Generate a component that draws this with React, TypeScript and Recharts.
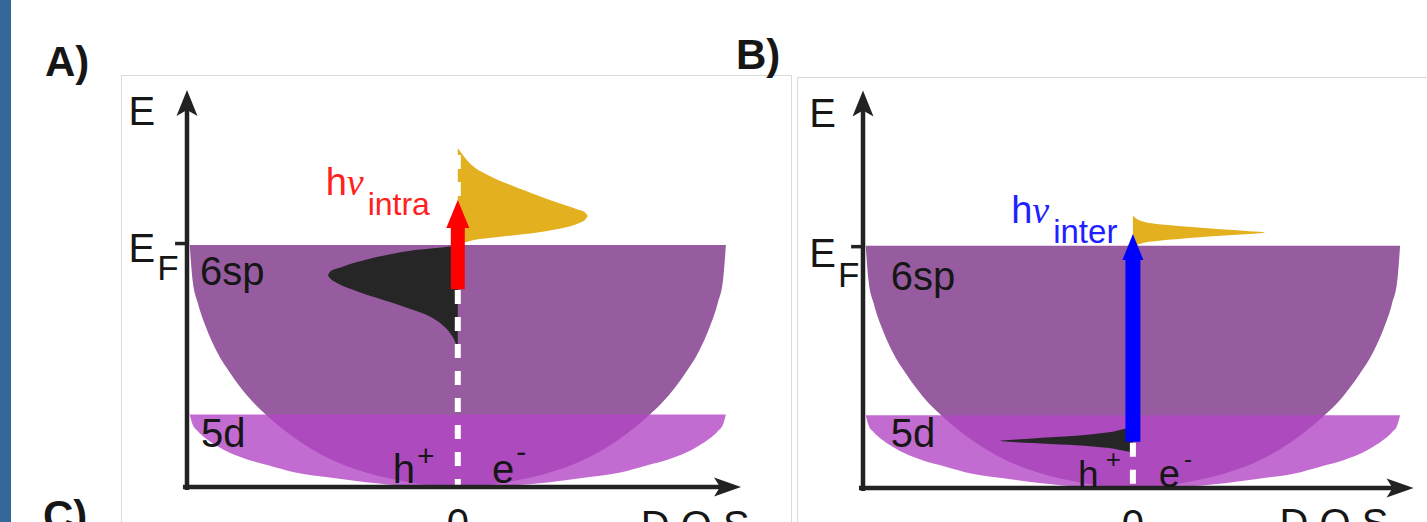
import React from "react";
import { ComposedChart, Area, XAxis, YAxis, ReferenceLine, ReferenceDot } from "recharts";

const FONT = "'Liberation Sans', Arial, Helvetica, sans-serif";
const SERIF = "'Liberation Serif', 'Times New Roman', serif";
const INK = "#161616";
const AXIS = "#222222";

// DOS axis: 0 in the middle, band edges near +-1.
// Energy axis: 0 at E_F, -1 at the bottom of the bands.
const xTicks = [0];
const dosDomain = [-1, 1];
const energyDomain = [-1, 0.64];

// shared DOS grid of the two parabolic bands
const bandDos = [-0.99, -0.98, -0.96, -0.93, -0.89, -0.84, -0.78, -0.7, -0.6, -0.48, -0.34, -0.18, 0, 0.18, 0.34, 0.48, 0.6, 0.7, 0.78, 0.84, 0.89, 0.93, 0.96, 0.98, 0.99];
const sp6Floor = [0, -0.14, -0.24, -0.34, -0.44, -0.53, -0.62, -0.71, -0.8, -0.88, -0.94, -0.98, -1, -0.98, -0.94, -0.88, -0.8, -0.71, -0.62, -0.53, -0.44, -0.34, -0.24, -0.14, 0];
const d5Floor = [-0.7, -0.74, -0.77, -0.8, -0.83, -0.86, -0.885, -0.91, -0.94, -0.96, -0.98, -0.995, -1, -0.995, -0.98, -0.96, -0.94, -0.91, -0.885, -0.86, -0.83, -0.8, -0.77, -0.74, -0.7];
const sp6Top = 0;
const d5Top = -0.7;

// A) intraband: hot electrons above E_F, holes below
const hotDosA = [0, 0.01, 0.03, 0.06, 0.1, 0.15, 0.2, 0.25, 0.3, 0.35, 0.4, 0.43, 0.455, 0.47, 0.48];
const hotLowA = [0, 0.005, 0.012, 0.021, 0.027, 0.033, 0.039, 0.045, 0.053, 0.062, 0.073, 0.083, 0.094, 0.104, 0.12];
const hotHighA = [0.4, 0.385, 0.355, 0.322, 0.295, 0.268, 0.246, 0.224, 0.202, 0.182, 0.163, 0.152, 0.142, 0.134, 0.12];
const holeDosA = [-0.48, -0.47, -0.455, -0.43, -0.4, -0.35, -0.3, -0.25, -0.2, -0.15, -0.1, -0.06, -0.03, -0.01, 0];
const holeLowA = [-0.125, -0.14, -0.152, -0.166, -0.18, -0.2, -0.218, -0.236, -0.255, -0.274, -0.298, -0.328, -0.362, -0.4, -0.43];
const holeHighA = [-0.125, -0.108, -0.1, -0.092, -0.08, -0.064, -0.05, -0.038, -0.028, -0.02, -0.014, -0.01, -0.006, -0.003, 0];

// B) interband: holes in 5d, electrons just above E_F
const hotDosB = [0, 0.015, 0.04, 0.08, 0.13, 0.19, 0.25, 0.31, 0.37, 0.43, 0.47, 0.49];
const hotLowB = [0, 0.003, 0.012, 0.018, 0.024, 0.03, 0.035, 0.04, 0.044, 0.048, 0.051, 0.054];
const hotHighB = [0.125, 0.11, 0.099, 0.091, 0.085, 0.079, 0.074, 0.069, 0.065, 0.06, 0.057, 0.054];
const holeDosB = [-0.49, -0.43, -0.37, -0.305, -0.24, -0.18, -0.12, -0.07, -0.034, -0.015, 0];
const holeLowB = [-0.806, -0.811, -0.814, -0.818, -0.822, -0.826, -0.832, -0.838, -0.846, -0.85, -0.853];
const holeHighB = [-0.804, -0.8, -0.796, -0.791, -0.786, -0.781, -0.774, -0.767, -0.757, -0.752, -0.75];

const rows = (xs: number[], lo: number[], hi: number[]) => xs.map((x, i) => ({ x, e: [lo[i], hi[i]] }));
const sp6Rows = bandDos.map((x, i) => ({ x, e: [sp6Floor[i], sp6Top] }));
const d5Rows = bandDos.map((x, i) => ({ x, e: [d5Floor[i], d5Top] }));

type Part = { t: string; dx?: number; dy?: number; size?: number; serif?: boolean };
type TextSpec = { x: number; y: number; parts: Part[]; size: number; fill?: string };

function textAt(spec: TextSpec) {
  return (p: any) => {
    const vb = p.viewBox ?? {};
    return (
      <text x={vb.x} y={vb.y} fontFamily={FONT} fontSize={spec.size} fill={spec.fill ?? INK}>
        {spec.parts.map((pt, i) => (
          <tspan
            key={i}
            dx={pt.dx}
            dy={pt.dy}
            fontSize={pt.size}
            fontFamily={pt.serif ? SERIF : undefined}
            fontStyle={pt.serif ? "italic" : undefined}
          >
            {pt.t}
          </tspan>
        ))}
      </text>
    );
  };
}

type ArrowOpts = { color: string; width: number; headWidth: number; headLength: number; notch?: number };

function arrow(o: ArrowOpts) {
  return (p: any) => {
    const { x1, y1, x2, y2 } = p;
    if (![x1, y1, x2, y2].every((v) => Number.isFinite(v))) return <g />;
    const len = Math.hypot(x2 - x1, y2 - y1) || 1;
    const ux = (x2 - x1) / len;
    const uy = (y2 - y1) / len;
    const hw = o.headWidth / 2;
    const bx = x2 - ux * o.headLength;
    const by = y2 - uy * o.headLength;
    const mx = bx + ux * (o.notch ?? 0);
    const my = by + uy * (o.notch ?? 0);
    const d = `M${x2},${y2}L${bx - uy * hw},${by + ux * hw}L${mx},${my}L${bx + uy * hw},${by - ux * hw}Z`;
    return (
      <g>
        <line x1={x1} y1={y1} x2={mx + ux} y2={my + uy} stroke={o.color} strokeWidth={o.width} />
        <path d={d} fill={o.color} />
      </g>
    );
  };
}

type PanelProps = {
  left: number;
  top: number;
  width: number;
  height: number;
  margin: { top: number; right: number; bottom: number; left: number };
  axisHeight: number;
  hot: { x: number; e: number[] }[];
  hole: { x: number; e: number[] }[];
  dash: { x: number; y: number }[];
  photon: { from: number; to: number } & ArrowOpts;
  xTip: number;
  efTick: number;
  texts: TextSpec[];
};

function Panel(p: PanelProps) {
  return (
    <div style={{ position: "absolute", left: p.left, top: p.top }}>
      <ComposedChart width={p.width} height={p.height} margin={p.margin}>
        <XAxis
          dataKey="x"
          type="number"
          domain={dosDomain}
          allowDataOverflow
          ticks={xTicks}
          interval={0}
          height={p.axisHeight}
          axisLine={false}
          tickLine={false}
          tickSize={0}
          tickMargin={22}
          tick={{ fontSize: 40, fill: INK, fontFamily: FONT }}
        />
        <YAxis type="number" domain={energyDomain} allowDataOverflow hide />
        <Area data={sp6Rows} dataKey="e" type="monotone" stroke="none" fill="#965c9f" fillOpacity={1} dot={false} activeDot={false} isAnimationActive={false} />
        <Area data={d5Rows} dataKey="e" type="monotone" stroke="none" fill="#b347c5" fillOpacity={0.8} dot={false} activeDot={false} isAnimationActive={false} />
        <Area data={p.hot} dataKey="e" type="monotone" stroke="none" fill="#e3b020" fillOpacity={1} dot={false} activeDot={false} isAnimationActive={false} />
        <Area data={p.hole} dataKey="e" type="monotone" stroke="none" fill="#262626" fillOpacity={1} dot={false} activeDot={false} isAnimationActive={false} />

        <ReferenceLine segment={p.dash} stroke="#ffffff" strokeWidth={6} strokeDasharray="14 13" ifOverflow="visible" />
        <ReferenceLine
          segment={[{ x: 0, y: p.photon.from }, { x: 0, y: p.photon.to }]}
          ifOverflow="visible"
          shape={arrow(p.photon)}
        />
        <ReferenceLine
          segment={[{ x: -1, y: -1.012 }, { x: -1, y: 0.64 }]}
          ifOverflow="visible"
          shape={arrow({ color: AXIS, width: 4.5, headWidth: 21, headLength: 26, notch: 6 })}
        />
        <ReferenceLine
          segment={[{ x: -1.015, y: -1 }, { x: p.xTip, y: -1 }]}
          ifOverflow="visible"
          shape={arrow({ color: AXIS, width: 4.5, headWidth: 19, headLength: 27, notch: 6 })}
        />
        <ReferenceLine
          segment={[{ x: -1.044, y: p.efTick }, { x: -1, y: p.efTick }]}
          ifOverflow="visible"
          stroke={AXIS}
          strokeWidth={3.5}
        />
        {p.texts.map((t, i) => (
          <ReferenceDot key={i} x={t.x} y={t.y} r={0} fill="none" stroke="none" ifOverflow="visible" label={textAt(t)} />
        ))}
      </ComposedChart>
    </div>
  );
}

const textsA: TextSpec[] = [
  { x: -1.216, y: 0.496, parts: [{ t: "E" }], size: 40 },
  { x: -1.216, y: -0.069, parts: [{ t: "E" }, { t: "F", dx: 2, dy: 18.3, size: 35 }], size: 40 },
  { x: -0.952, y: -0.167, parts: [{ t: "6sp" }], size: 40 },
  { x: -0.948, y: -0.833, parts: [{ t: "5d" }], size: 40 },
  { x: -0.24, y: -0.983, parts: [{ t: "h" }, { t: "+", dx: 2, dy: -16.4, size: 30 }], size: 40 },
  { x: 0.126, y: -0.983, parts: [{ t: "e" }, { t: "-", dx: 2, dy: -21, size: 30 }], size: 40 },
  { x: -0.488, y: 0.207, parts: [{ t: "h" }, { t: "ν", serif: true }, { t: "intra", dx: 4, dy: 20, size: 32 }], size: 38, fill: "#ff2020" },
  { x: 0.676, y: -1.213, parts: [{ t: "D.O.S" }], size: 40 },
];

const textsB: TextSpec[] = [
  { x: -1.199, y: 0.49, parts: [{ t: "E" }], size: 40 },
  { x: -1.199, y: -0.088, parts: [{ t: "E" }, { t: "F", dx: 2, dy: 19.7, size: 35 }], size: 40 },
  { x: -0.897, y: -0.184, parts: [{ t: "6sp" }], size: 40 },
  { x: -0.897, y: -0.831, parts: [{ t: "5d" }], size: 40 },
  { x: -0.203, y: -0.995, parts: [{ t: "h" }, { t: "+", dx: 7, dy: -18.7, size: 26 }], size: 37 },
  { x: 0.096, y: -0.995, parts: [{ t: "e" }, { t: "-", dx: 4, dy: -20, size: 24 }], size: 38 },
  { x: -0.451, y: 0.094, parts: [{ t: "h" }, { t: "ν", serif: true }, { t: "inter", dx: 4, dy: 20, size: 33 }], size: 38, fill: "#1f1fff" },
  { x: 0.543, y: -1.202, parts: [{ t: "D.O.S" }], size: 40 },
];

const panelLetter: React.CSSProperties = {
  position: "absolute",
  fontFamily: FONT,
  fontWeight: 700,
  fontSize: 42,
  lineHeight: "42px",
  color: INK,
  whiteSpace: "nowrap",
};

export default function App() {
  return (
    <div
      style={{
        position: "absolute",
        left: 0,
        top: 0,
        width: 1427,
        height: 522,
        overflow: "hidden",
        background: "#ffffff",
        fontFamily: FONT,
      }}
    >
      <div style={{ position: "absolute", left: 0, top: 0, width: 11, height: 522, background: "#34679a" }} />
      <div
        style={{
          position: "absolute",
          left: 121,
          top: 75,
          width: 671,
          height: 470,
          boxSizing: "border-box",
          borderTop: "1px solid #dadada",
          borderLeft: "1px solid #dadada",
          borderRight: "1px solid #dadada",
        }}
      />
      <div
        style={{
          position: "absolute",
          left: 797,
          top: 77,
          width: 660,
          height: 470,
          boxSizing: "border-box",
          borderTop: "1px solid #dadada",
          borderLeft: "1px solid #dadada",
        }}
      />
      <div style={{ ...panelLetter, left: 45, top: 41 }}>A)</div>
      <div style={{ ...panelLetter, left: 736, top: 34 }}>B)</div>
      <div style={{ ...panelLetter, left: 43, top: 495 }}>C)</div>

      <Panel
        left={121}
        top={75}
        width={671}
        height={447}
        margin={{ top: 15.1, right: 63.4, bottom: 0, left: 66 }}
        axisHeight={35}
        hot={rows(hotDosA, hotLowA, hotHighA)}
        hole={rows(holeDosA, holeLowA, holeHighA)}
        dash={[{ x: 0, y: 0.483 }, { x: 0, y: -1 }]}
        photon={{ from: -0.183, to: 0.186, color: "#ff0000", width: 14, headWidth: 23, headLength: 28 }}
        xTip={1.046}
        efTick={0.006}
        texts={textsA}
      />
      <Panel
        left={797}
        top={77}
        width={630}
        height={445}
        margin={{ top: 13.6, right: 24.2, bottom: 0, left: 66 }}
        axisHeight={34}
        hot={rows(hotDosB, hotLowB, hotHighB)}
        hole={rows(holeDosB, holeLowB, holeHighB)}
        dash={[{ x: 0, y: -0.813 }, { x: 0, y: -1 }]}
        photon={{ from: -0.809, to: 0.048, color: "#0000ff", width: 15, headWidth: 21, headLength: 26 }}
        xTip={1.04}
        efTick={-0.004}
        texts={textsB}
      />
    </div>
  );
}
